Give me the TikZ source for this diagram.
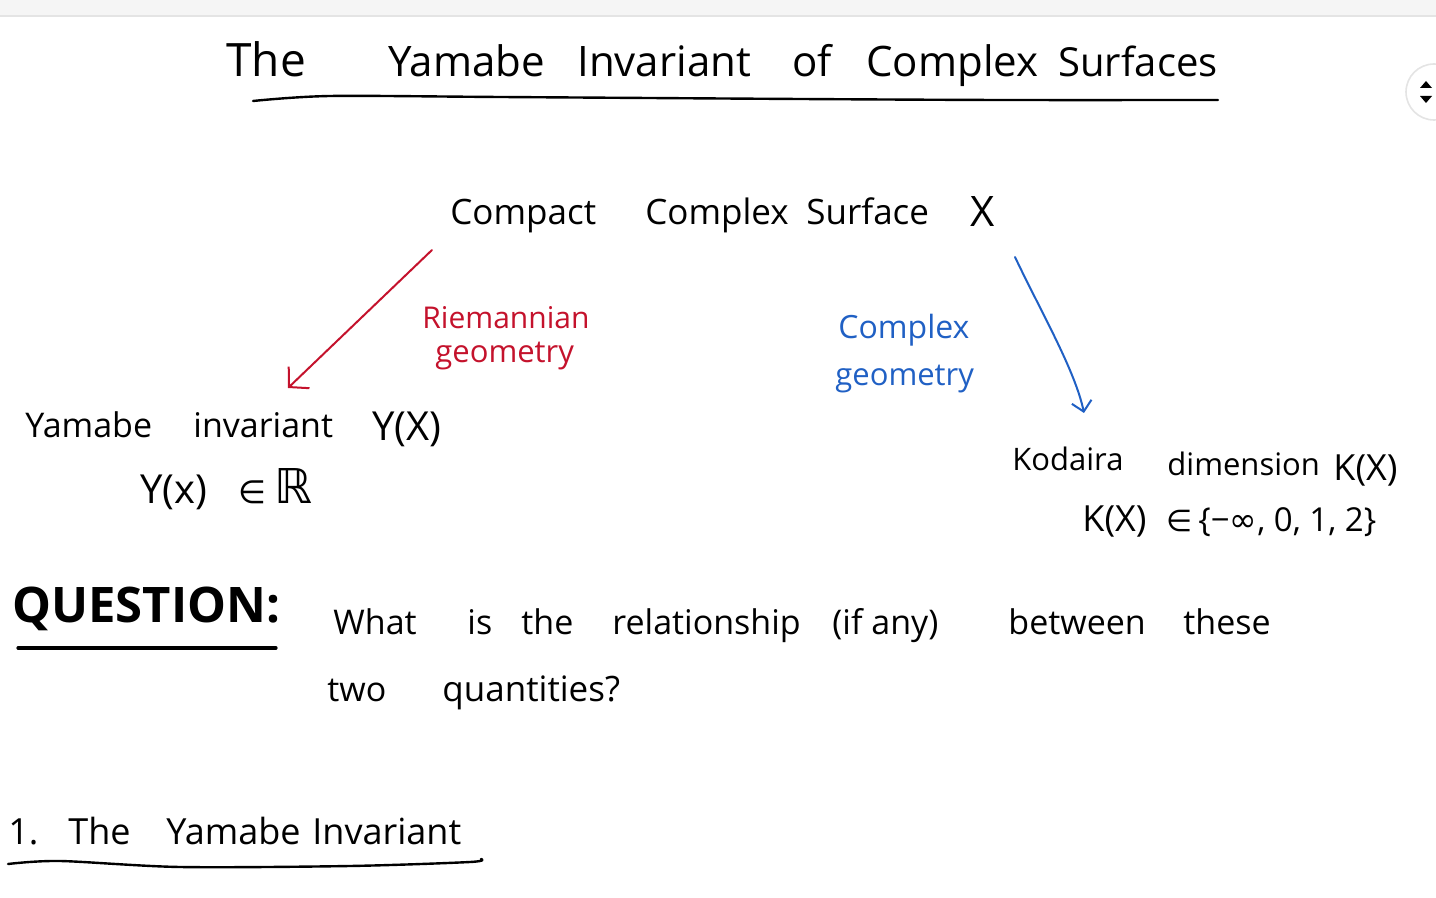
\documentclass[tikz,border=0pt]{standalone}
\usepackage{fontspec}
\setmainfont{Open Sans}
\newfontfamily\symf{DejaVu Sans}
\usetikzlibrary{arrows.meta}
\definecolor{inkred}{RGB}{196,18,44}
\definecolor{inkblue}{RGB}{32,96,196}
\definecolor{barbg}{RGB}{245,245,245}
\definecolor{barline}{RGB}{228,228,228}
\newcommand\fsz[1]{\fontsize{#1}{#1}\selectfont}
\tikzset{
  word/.style={anchor=base west, inner sep=0pt, text=black},
  redword/.style={word, text=inkred},
  blueword/.style={word, text=inkblue},
  inkline/.style={line width=1pt, line cap=round, line join=round},
}
\begin{document}
\begin{tikzpicture}[x=0.5pt,y=-0.5pt]
\useasboundingbox (0,0) rectangle (1436,898);
% top strip
\fill[barbg] (0,0) rectangle (1436,16);
\draw[barline, line width=0.8pt] (0,16) -- (1436,16);
% scroll button
\draw[barline, fill=white, line width=0.8pt] (1434,92) circle[radius=14pt];
\fill (1420,88) -- (1432,88) -- (1426,81) -- cycle;
\fill (1420,96) -- (1432,96) -- (1426,103) -- cycle;

% title
\begin{scope}[every node/.append style={font=\fsz{21}}]
\node[word, font=\fsz{23}] (t1) at (226,77) {The};
\node[word] (t2) at (388,77) {Yamabe};
\node[word] (t3) at (577,77) {Invariant};
\node[word] (t4) at (792,77) {of};
\node[word] (t5) at (866,77) {Complex};
\node[word, font=\fsz{20}] (t6) at (1058,77) {Surfaces};
\end{scope}
\draw[inkline, line width=1.2pt] plot[smooth] coordinates {(253,101) (330,96) (500,97) (800,99) (1000,100) (1218,100)};

% source
\begin{scope}[every node/.append style={font=\fsz{17.5}}]
\node[word] (s1) at (450,225) {Compact};
\node[word] (s2) at (645,225) {Complex};
\node[word] (s3) at (806,225) {Surface};
\node[word, font=\fsz{21}] (s4) at (970,227) {X};
\end{scope}

% red branch
\coordinate (ra) at (432,250);
\coordinate (rb) at (288,388);
\draw[inkline, inkred, -{Straight Barb[length=7pt,width=15pt,line width=1pt]}] (ra) -- (rb);
\node[redword, font=\fsz{15}] (r1) at (422,329) {Riemannian};
\node[redword, font=\fsz{15.5}] (r2) at (435,363) {geometry};

% blue branch
\coordinate (ba) at (1015,257);
\coordinate (bb) at (1084,413);
\draw[inkline, inkblue, -{Straight Barb[length=5pt,width=10pt,line width=1pt]}] (ba) .. controls (1040,310) and (1075,370) .. (bb);
\node[blueword, font=\fsz{16}] (b1) at (838,339) {Complex};
\node[blueword, font=\fsz{15.5}] (b2) at (835,386) {geometry};

% Yamabe invariant
\begin{scope}[every node/.append style={font=\fsz{17}}]
\node[word] (y1) at (25,438) {Yamabe};
\node[word] (y2) at (193,438) {invariant};
\node[word, font=\fsz{20}] (y3) at (372,441) {Y(X)};
\node[word, font=\fsz{20}] (y4) at (140,504) {Y(x)};
\node[word, font=\symf\fsz{16}] (y5) at (238,504) {∈};
\node[word, font=\symf\fsz{24}] (y6) at (274,504) {ℝ};
\end{scope}

% Kodaira dimension
\begin{scope}[every node/.append style={font=\fsz{15.5}}]
\node[word] (k1) at (1012,471) {Kodaira};
\node[word] (k2) at (1167,476) {dimension};
\node[word, font=\fsz{18}] (k3) at (1333,481) {K(X)};
\node[word, font=\fsz{18}] (k4) at (1082,531) {K(X)};
\node[word, font=\symf\fsz{15}] (k5) at (1166,531) {∈};
\node[word, font=\fsz{16.5}] (k6) at (1198,531) {\{−{\symf ∞}, 0, 1, 2\}};
\end{scope}

% question
\node[word, font=\bfseries\fsz{24.5}] (q0) at (12,623) {QUESTION:};
\draw[inkline, line width=1.6pt] (18,648) -- (276,648);
\begin{scope}[every node/.append style={font=\fsz{17}}]
\node[word] (q1) at (333,634) {What};
\node[word] (q2) at (467,634) {is};
\node[word] (q3) at (521,634) {the};
\node[word] (q4) at (612,634) {relationship};
\node[word] (q5) at (832,634) {(if any)};
\node[word] (q6) at (1008,634) {between};
\node[word] (q7) at (1183,634) {these};
\node[word] (q8) at (327,701) {two};
\node[word, font=\fsz{17.5}] (q9) at (442,701) {quantities?};
\end{scope}

% section heading
\begin{scope}[every node/.append style={font=\fsz{18}}]
\node[word] (h1) at (8,844) {1.};
\node[word] (h2) at (68,844) {The};
\node[word] (h3) at (166,844) {Yamabe};
\node[word] (h4) at (312,844) {Invariant};
\end{scope}
\draw[inkline, line width=1.2pt] plot[smooth] coordinates {(8,864) (60,861) (180,867) (350,866) (470,862) (481,859)};
\end{tikzpicture}
\end{document}
